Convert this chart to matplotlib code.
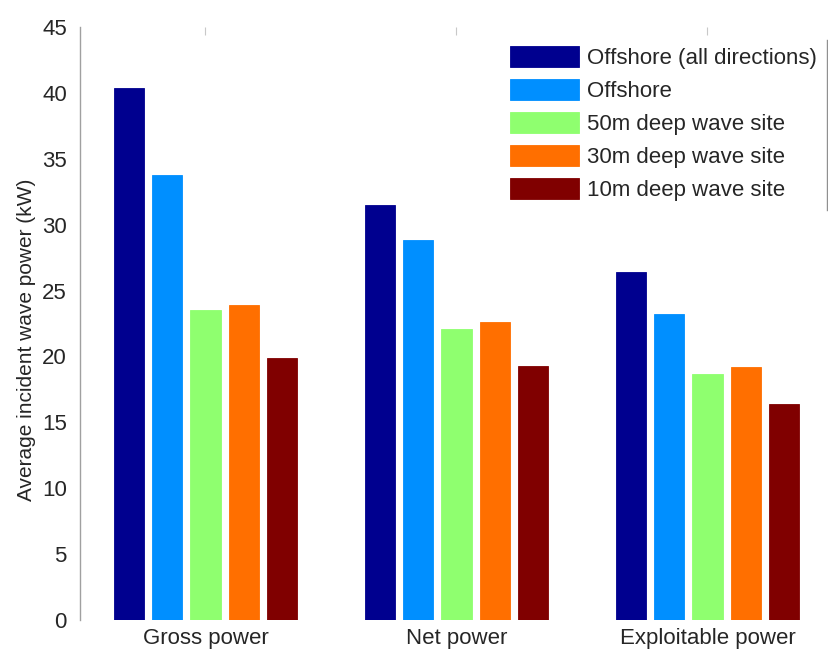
import matplotlib
matplotlib.use("Agg")
import matplotlib.pyplot as plt
import numpy as np
from matplotlib.lines import Line2D

plt.rcParams['font.family'] = ['Liberation Sans', 'DejaVu Sans']

categories = ["Gross power", "Net power", "Exploitable power"]
series_names = ["Offshore (all directions)", "Offshore", "50m deep wave site",
                "30m deep wave site", "10m deep wave site"]
offshore_all = [40.4, 31.5, 26.4]
offshore = [33.8, 28.8, 23.2]
site_50m = [23.5, 22.1, 18.7]
site_30m = [23.9, 22.6, 19.2]
site_10m = [19.85, 19.3, 16.4]
series_values = [offshore_all, offshore, site_50m, site_30m, site_10m]
colors = ["#00008F", "#008FFF", "#8FFF6F", "#FF6F00", "#800000"]
yticks = list(range(0, 50, 5))

W, H = 829, 650
fig = plt.figure(figsize=(W / 100, H / 100), dpi=100)
ax = fig.add_axes([80 / W, 30 / H, 753 / W, 593 / H])

x = np.arange(1, len(categories) + 1)
step = 0.153
width = 0.12
for i, (vals, name, c) in enumerate(zip(series_values, series_names, colors)):
    ax.bar(x + (i - 2) * step, vals, width, color=c, label=name,
           edgecolor=c, linewidth=0.6)

ax.set_xlim(0.5, 3.5)
ax.set_ylim(0, 45)
ax.set_yticks(yticks)
ax.set_xticks(x)
ax.set_xticklabels(categories)
txt = "#262626"
ax.tick_params(axis='x', bottom=False, top=True, labelbottom=True, labeltop=False,
               direction='in', length=6, color='#c8c8c8', labelsize=16,
               labelcolor=txt, pad=6)
ax.tick_params(axis='y', left=False, labelsize=16, labelcolor=txt, pad=6)
for s in ['top', 'right', 'bottom']:
    ax.spines[s].set_visible(False)
ax.spines['left'].set_color('#a0a0a0')
ax.spines['left'].set_linewidth(1.0)
ax.set_ylabel("Average incident wave power (kW)", fontsize=15, color=txt)
ax.yaxis.set_label_coords(-0.058, 0.472)

leg = ax.legend(loc='upper left', bbox_to_anchor=(510 / W, 1 - 46 / H),
                bbox_transform=fig.transFigure, frameon=False, fontsize=16,
                handlelength=3.1, handleheight=1.08, handletextpad=0.36,
                labelspacing=0.45, borderpad=0, borderaxespad=0)
for t in leg.get_texts():
    t.set_color(txt)

fig.add_artist(Line2D([827 / W, 827 / W], [1 - 40 / H, 1 - 210 / H],
                      transform=fig.transFigure, color='#909090', linewidth=1.0))

fig.savefig("out.png", dpi=100)
